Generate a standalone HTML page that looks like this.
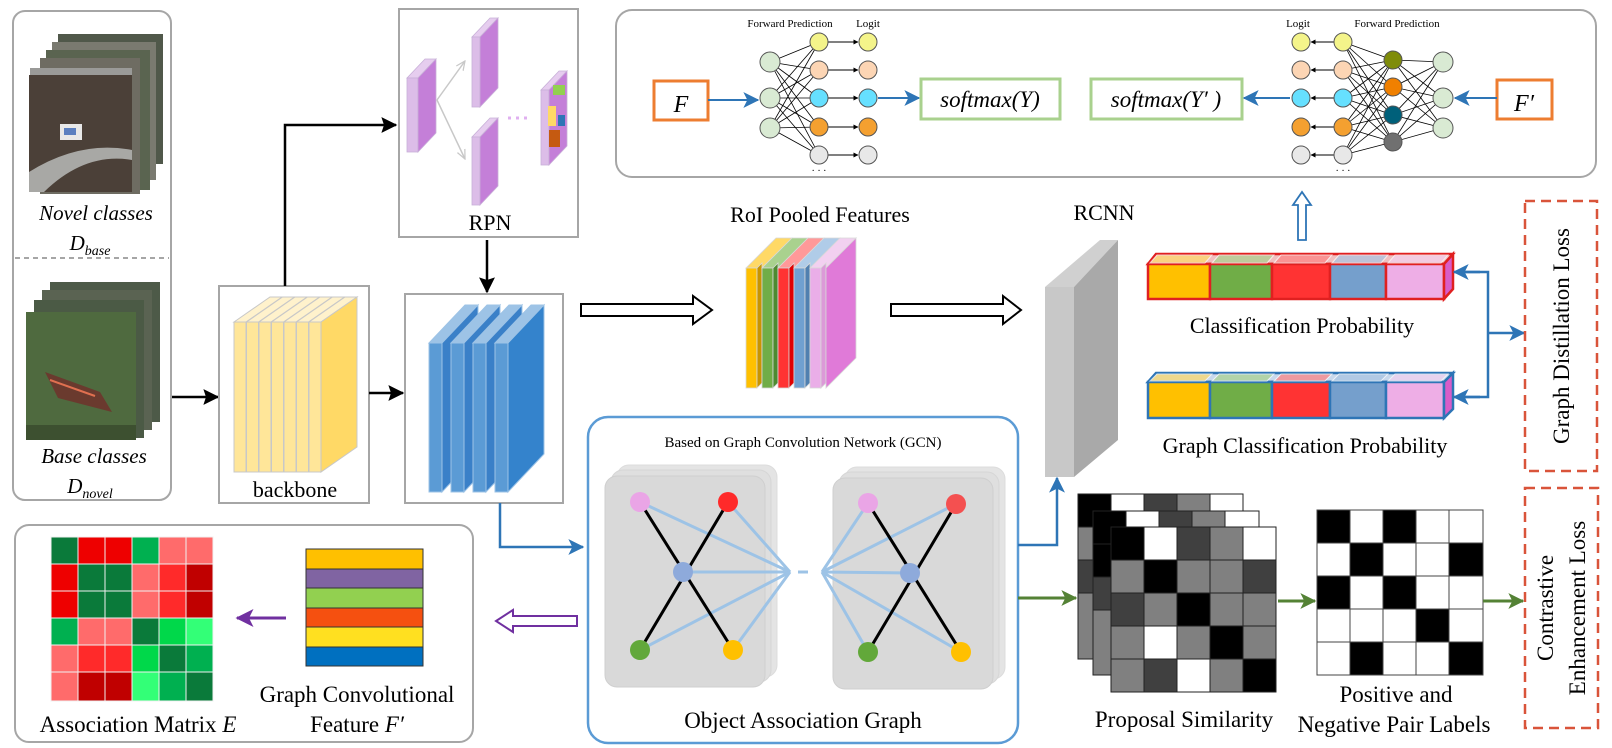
<!DOCTYPE html>
<html><head><meta charset="utf-8"><style>
html,body{margin:0;padding:0;background:#fff}
svg{display:block}
text{font-family:"Liberation Serif",serif;fill:#000}
</style></head><body>
<svg width="1612" height="748" viewBox="0 0 1612 748" xmlns="http://www.w3.org/2000/svg">
<defs>
<marker id="abk" viewBox="0 0 12 12" markerWidth="16" markerHeight="16" refX="11" refY="6" orient="auto" markerUnits="userSpaceOnUse"><path d="M0,0 L12,6 L0,12 L2,6 z" fill="#000"/></marker>
<marker id="abl" viewBox="0 0 12 12" markerWidth="16" markerHeight="16" refX="11" refY="6" orient="auto" markerUnits="userSpaceOnUse"><path d="M0,0 L12,6 L0,12 L3,6 z" fill="#2e75b6"/></marker>
<marker id="agr" viewBox="0 0 12 12" markerWidth="16" markerHeight="16" refX="11" refY="6" orient="auto" markerUnits="userSpaceOnUse"><path d="M0,0 L12,6 L0,12 L3,6 z" fill="#548235"/></marker>
<marker id="apu" viewBox="0 0 12 12" markerWidth="18" markerHeight="18" refX="11" refY="6" orient="auto" markerUnits="userSpaceOnUse"><path d="M0,0 L12,6 L0,12 L3,6 z" fill="#7030a0"/></marker>
<marker id="asm" viewBox="0 0 12 12" markerWidth="5" markerHeight="5" refX="11" refY="6" orient="auto" markerUnits="userSpaceOnUse"><path d="M0,0 L12,6 L0,12 z" fill="#000"/></marker>
<marker id="agy" viewBox="0 0 12 12" markerWidth="10" markerHeight="10" refX="11" refY="6" orient="auto" markerUnits="userSpaceOnUse"><path d="M0,1 L11,6 L0,11" fill="none" stroke="#c8c8c8" stroke-width="1.5"/></marker>
</defs>

<!-- ===== Left input box ===== -->
<rect x="13" y="11" width="158" height="489" rx="12" fill="#fff" stroke="#a6a6a6" stroke-width="2"/>
<line x1="15" y1="258" x2="169" y2="258" stroke="#a6a6a6" stroke-width="2" stroke-dasharray="5,4"/>
<rect x="58" y="34" width="105" height="130" fill="#50584a"/>
<rect x="52" y="42" width="104" height="138" fill="#7a7a70"/>
<rect x="46" y="50" width="104" height="140" fill="#5a6450"/>
<rect x="40" y="58" width="100" height="136" fill="#6e6c62"/>
<rect x="30" y="68" width="102" height="8" fill="#9a9a98"/>
<rect x="29" y="75" width="103" height="117" fill="#4b4038"/>
<path d="M29,172 Q80,140 132,150 L132,160 Q85,152 44,192 L29,192z" fill="#a8a8a5"/>
<rect x="60" y="124" width="22" height="16" fill="#e8e8e8"/>
<rect x="64" y="128" width="12" height="7" fill="#5b7fc0"/>
<rect x="50" y="282" width="110" height="140" fill="#4d5a48"/>
<rect x="42" y="290" width="110" height="140" fill="#5a6352"/>
<rect x="34" y="300" width="110" height="138" fill="#4b5a45"/>
<rect x="26" y="312" width="110" height="128" fill="#4f6a3f"/>
<path d="M45,372 L100,392 L112,412 L58,398z" fill="#6a3a2e"/>
<path d="M50,380 L95,396" stroke="#e07050" stroke-width="2"/>
<rect x="26" y="425" width="110" height="15" fill="#3d5030"/>
<text x="96" y="220" font-size="21" font-style="italic" text-anchor="middle">Novel classes</text>
<text x="90" y="250" font-size="21" font-style="italic" text-anchor="middle">D<tspan font-size="14" dy="5">base</tspan></text>
<text x="94" y="463" font-size="21" font-style="italic" text-anchor="middle">Base classes</text>
<text x="90" y="493" font-size="21" font-style="italic" text-anchor="middle">D<tspan font-size="14" dy="5">novel</tspan></text>

<line x1="172" y1="397" x2="218" y2="397" stroke="#000" stroke-width="2.5" marker-end="url(#abk)"/>

<!-- ===== backbone ===== -->
<rect x="219" y="286" width="150" height="217" fill="#fff" stroke="#a6a6a6" stroke-width="2"/>
<g stroke="#c8c8c8" stroke-width="1">
<polygon points="234,322 270,297 282,297 246,322" fill="#fff2cc"/><rect x="234" y="322" width="12" height="150" fill="#ffe699"/>
<polygon points="246.5,322 282.5,297 294.5,297 258.5,322" fill="#fff2cc"/><rect x="246.5" y="322" width="12" height="150" fill="#ffe699"/>
<polygon points="259,322 295,297 307,297 271,322" fill="#fff2cc"/><rect x="259" y="322" width="12" height="150" fill="#ffe699"/>
<polygon points="271.5,322 307.5,297 319.5,297 283.5,322" fill="#fff2cc"/><rect x="271.5" y="322" width="12" height="150" fill="#ffe699"/>
<polygon points="284,322 320,297 332,297 296,322" fill="#fff2cc"/><rect x="284" y="322" width="12" height="150" fill="#ffe699"/>
<polygon points="296.5,322 332.5,297 344.5,297 308.5,322" fill="#fff2cc"/><rect x="296.5" y="322" width="12" height="150" fill="#ffe699"/>
<polygon points="309,322 345,297 357,297 321,322" fill="#fff2cc"/><rect x="309" y="322" width="12" height="150" fill="#ffe699"/>
<polygon points="321,322 357,297 357,447 321,472" fill="#ffd966"/>
</g>
<text x="295" y="497" font-size="22" text-anchor="middle">backbone</text>

<polyline points="285,286 285,125 396,125" fill="none" stroke="#000" stroke-width="2.5" marker-end="url(#abk)"/>

<!-- ===== RPN ===== -->
<rect x="399" y="9" width="179" height="228" fill="#fff" stroke="#a6a6a6" stroke-width="2"/>
<g stroke="#c8b0d8" stroke-width="0.8">
<polygon points="407,78 425,59 436,59 418,78" fill="#e6cdef"/><rect x="407" y="78" width="11" height="74" fill="#dcbde8"/><polygon points="418,78 436,59 436,133 418,152" fill="#c47fd8"/>
<polygon points="472,37 490,18 498,18 480,37" fill="#e6cdef"/><rect x="472" y="37" width="8" height="70" fill="#dcbde8"/><polygon points="480,37 498,18 498,88 480,107" fill="#c47fd8"/>
<polygon points="472,137 490,118 498,118 480,137" fill="#e6cdef"/><rect x="472" y="137" width="8" height="68" fill="#dcbde8"/><polygon points="480,137 498,118 498,186 480,205" fill="#c47fd8"/>
<polygon points="541,90 559,71 567,71 549,90" fill="#e6cdef"/><rect x="541" y="90" width="8" height="75" fill="#dcbde8"/><polygon points="549,90 567,71 567,146 549,165" fill="#c47fd8"/>
</g>
<rect x="553" y="85" width="12" height="10" fill="#92d050"/>
<rect x="548" y="106" width="8" height="20" fill="#ffd966"/>
<rect x="558" y="115" width="7" height="11" fill="#2e75b6"/>
<rect x="549" y="130" width="11" height="17" fill="#c55a11"/>
<polyline points="437,100 465,61" fill="none" stroke="#c8c8c8" stroke-width="1.5" marker-end="url(#agy)"/>
<polyline points="437,100 465,159" fill="none" stroke="#c8c8c8" stroke-width="1.5" marker-end="url(#agy)"/>
<line x1="508" y1="118" x2="530" y2="118" stroke="#e0b0f0" stroke-width="3" stroke-dasharray="3,5"/>
<text x="490" y="230" font-size="22" text-anchor="middle">RPN</text>
<line x1="487" y1="240" x2="487" y2="292" stroke="#000" stroke-width="2.5" marker-end="url(#abk)"/>

<!-- ===== blue features ===== -->
<rect x="405" y="294" width="158" height="209" fill="#fff" stroke="#a6a6a6" stroke-width="2"/>
<line x1="369" y1="393" x2="403" y2="393" stroke="#000" stroke-width="2.5" marker-end="url(#abk)"/>
<g stroke="#9dc3e6" stroke-width="1">
<polygon points="429,343 465,305 478,305 442,343" fill="#9dc3e6"/><rect x="429" y="343" width="13" height="149" fill="#5b9bd5"/><polygon points="442,343 478,305 478,454 442,492" fill="#3a80c8"/>
<polygon points="451,343 487,305 500,305 464,343" fill="#9dc3e6"/><rect x="451" y="343" width="13" height="149" fill="#5b9bd5"/><polygon points="464,343 500,305 500,454 464,492" fill="#3a80c8"/>
<polygon points="473,343 509,305 522,305 486,343" fill="#9dc3e6"/><rect x="473" y="343" width="13" height="149" fill="#5b9bd5"/><polygon points="486,343 522,305 522,454 486,492" fill="#3a80c8"/>
<polygon points="495,343 531,305 544,305 508,343" fill="#9dc3e6"/><rect x="495" y="343" width="13" height="149" fill="#5b9bd5"/><polygon points="508,343 544,305 544,454 508,492" fill="#3483cc"/>
</g>

<!-- hollow arrows -->
<polygon points="581,304 693,304 693,296 712,310 693,324 693,316 581,316" fill="#fff" stroke="#000" stroke-width="2"/>
<polygon points="891,304 1003,304 1003,296 1021,310 1003,324 1003,316 891,316" fill="#fff" stroke="#000" stroke-width="2"/>

<!-- ===== RoI pooled ===== -->
<text x="820" y="222" font-size="22" text-anchor="middle">RoI Pooled Features</text>
<g stroke="#d8d8d8" stroke-width="0.8">
<polygon points="746,268 776,238 792,238 762,268" fill="#ffd966"/><rect x="746" y="268" width="11" height="120" fill="#ffc000"/><polygon points="757,268 762,263 762,383 757,388" fill="#c89400"/>
<polygon points="762,268 792,238 808,238 778,268" fill="#a9d18e"/><rect x="762" y="268" width="11" height="120" fill="#70ad47"/><polygon points="773,268 778,263 778,383 773,388" fill="#4e8a30"/>
<polygon points="778,268 808,238 824,238 794,268" fill="#ff9999"/><rect x="778" y="268" width="11" height="120" fill="#ff3333"/><polygon points="789,268 794,263 794,383 789,388" fill="#e00000"/>
<polygon points="794,268 824,238 840,238 810,268" fill="#b0cce8"/><rect x="794" y="268" width="11" height="120" fill="#70a0d0"/><polygon points="805,268 810,263 810,383 805,388" fill="#5080b0"/>
<polygon points="810,268 840,238 856,238 826,268" fill="#f2d0f0"/><rect x="810" y="268" width="11" height="120" fill="#eaaee8"/><polygon points="821,268 826,263 826,383 821,388" fill="#dc9ad8"/>
<polygon points="826,268 856,238 856,358 826,388" fill="#e07ad8"/>
</g>

<!-- ===== RCNN ===== -->
<text x="1104" y="220" font-size="22" text-anchor="middle">RCNN</text>
<polygon points="1045,287 1100,240 1118,240 1074,287" fill="#d0d0d0"/>
<rect x="1045" y="287" width="29" height="190" fill="#c8c8c8"/>
<polygon points="1074,287 1118,240 1118,440 1074,477" fill="#a9a9a9"/>

<!-- ===== top box ===== -->
<rect x="616" y="10" width="980" height="167" rx="16" fill="#fff" stroke="#a6a6a6" stroke-width="2"/>
<rect x="654" y="81" width="54" height="39" fill="#fff" stroke="#ed7d31" stroke-width="3"/>
<text x="681" y="112" font-size="24" font-style="italic" text-anchor="middle">F</text>
<line x1="708" y1="100" x2="758" y2="100" stroke="#2e75b6" stroke-width="2" marker-end="url(#abl)"/>
<g stroke="#000" stroke-width="0.8">
<line x1="770" y1="62" x2="819" y2="42"/><line x1="770" y1="62" x2="819" y2="70"/><line x1="770" y1="62" x2="819" y2="98"/><line x1="770" y1="62" x2="819" y2="127"/><line x1="770" y1="62" x2="819" y2="155"/>
<line x1="770" y1="98" x2="819" y2="42"/><line x1="770" y1="98" x2="819" y2="70"/><line x1="770" y1="98" x2="819" y2="98"/><line x1="770" y1="98" x2="819" y2="127"/><line x1="770" y1="98" x2="819" y2="155"/>
<line x1="770" y1="128" x2="819" y2="42"/><line x1="770" y1="128" x2="819" y2="70"/><line x1="770" y1="128" x2="819" y2="98"/><line x1="770" y1="128" x2="819" y2="127"/><line x1="770" y1="128" x2="819" y2="155"/>
<line x1="1443" y1="62" x2="1393" y2="60"/><line x1="1443" y1="62" x2="1393" y2="87"/><line x1="1443" y1="62" x2="1393" y2="115"/><line x1="1443" y1="62" x2="1393" y2="142"/>
<line x1="1443" y1="98" x2="1393" y2="60"/><line x1="1443" y1="98" x2="1393" y2="87"/><line x1="1443" y1="98" x2="1393" y2="115"/><line x1="1443" y1="98" x2="1393" y2="142"/>
<line x1="1443" y1="128" x2="1393" y2="60"/><line x1="1443" y1="128" x2="1393" y2="87"/><line x1="1443" y1="128" x2="1393" y2="115"/><line x1="1443" y1="128" x2="1393" y2="142"/>
<line x1="1393" y1="60" x2="1343" y2="42"/><line x1="1393" y1="60" x2="1343" y2="70"/><line x1="1393" y1="60" x2="1343" y2="98"/><line x1="1393" y1="60" x2="1343" y2="127"/><line x1="1393" y1="60" x2="1343" y2="155"/>
<line x1="1393" y1="87" x2="1343" y2="42"/><line x1="1393" y1="87" x2="1343" y2="70"/><line x1="1393" y1="87" x2="1343" y2="98"/><line x1="1393" y1="87" x2="1343" y2="127"/><line x1="1393" y1="87" x2="1343" y2="155"/>
<line x1="1393" y1="115" x2="1343" y2="42"/><line x1="1393" y1="115" x2="1343" y2="70"/><line x1="1393" y1="115" x2="1343" y2="98"/><line x1="1393" y1="115" x2="1343" y2="127"/><line x1="1393" y1="115" x2="1343" y2="155"/>
<line x1="1393" y1="142" x2="1343" y2="42"/><line x1="1393" y1="142" x2="1343" y2="70"/><line x1="1393" y1="142" x2="1343" y2="98"/><line x1="1393" y1="142" x2="1343" y2="127"/><line x1="1393" y1="142" x2="1343" y2="155"/>
</g>
<g stroke="#000" stroke-width="1" marker-end="url(#asm)">
<line x1="828" y1="42" x2="858" y2="42"/><line x1="828" y1="70" x2="858" y2="70"/><line x1="828" y1="98" x2="858" y2="98"/><line x1="828" y1="127" x2="858" y2="127"/><line x1="828" y1="155" x2="858" y2="155"/>
<line x1="1334" y1="42" x2="1311" y2="42"/><line x1="1334" y1="70" x2="1311" y2="70"/><line x1="1334" y1="98" x2="1311" y2="98"/><line x1="1334" y1="127" x2="1311" y2="127"/><line x1="1334" y1="155" x2="1311" y2="155"/>
</g>
<g stroke="#555" stroke-width="1">
<circle cx="770" cy="62" r="10" fill="#d9ead3"/><circle cx="770" cy="98" r="10" fill="#d9ead3"/><circle cx="770" cy="128" r="10" fill="#d9ead3"/>
<circle cx="819" cy="42" r="9" fill="#f4f48a"/><circle cx="819" cy="70" r="9" fill="#fcd5b4"/><circle cx="819" cy="98" r="9" fill="#66e0ff"/><circle cx="819" cy="127" r="9" fill="#f4a030"/><circle cx="819" cy="155" r="9" fill="#e8e8e8"/>
<circle cx="868" cy="42" r="9" fill="#f4f48a"/><circle cx="868" cy="70" r="9" fill="#fcd5b4"/><circle cx="868" cy="98" r="9" fill="#66e0ff"/><circle cx="868" cy="127" r="9" fill="#f4a030"/><circle cx="868" cy="155" r="9" fill="#e8e8e8"/>
<circle cx="1301" cy="42" r="9" fill="#f4f48a"/><circle cx="1301" cy="70" r="9" fill="#fcd5b4"/><circle cx="1301" cy="98" r="9" fill="#66e0ff"/><circle cx="1301" cy="127" r="9" fill="#f4a030"/><circle cx="1301" cy="155" r="9" fill="#e8e8e8"/>
<circle cx="1343" cy="42" r="9" fill="#f4f48a"/><circle cx="1343" cy="70" r="9" fill="#fcd5b4"/><circle cx="1343" cy="98" r="9" fill="#66e0ff"/><circle cx="1343" cy="127" r="9" fill="#f4a030"/><circle cx="1343" cy="155" r="9" fill="#e8e8e8"/>
<circle cx="1393" cy="60" r="9" fill="#7f8c0a"/><circle cx="1393" cy="87" r="9" fill="#f08000"/><circle cx="1393" cy="115" r="9" fill="#00607a"/><circle cx="1393" cy="142" r="9" fill="#707070"/>
<circle cx="1443" cy="62" r="10" fill="#d9ead3"/><circle cx="1443" cy="98" r="10" fill="#d9ead3"/><circle cx="1443" cy="128" r="10" fill="#d9ead3"/>
</g>
<text x="790" y="27" font-size="11" text-anchor="middle">Forward Prediction</text>
<text x="868" y="27" font-size="11" text-anchor="middle">Logit</text>
<text x="1298" y="27" font-size="11" text-anchor="middle">Logit</text>
<text x="1397" y="27" font-size="11" text-anchor="middle">Forward Prediction</text>
<text x="819" y="174" font-size="10" text-anchor="middle">· · ·</text>
<text x="1343" y="174" font-size="10" text-anchor="middle">· · ·</text>
<line x1="878" y1="98" x2="919" y2="98" stroke="#2e75b6" stroke-width="2" marker-end="url(#abl)"/>
<rect x="921" y="79" width="139" height="40" fill="#fff" stroke="#a9d18e" stroke-width="3"/>
<text x="990" y="107" font-size="23" font-style="italic" text-anchor="middle">softmax(Y)</text>
<rect x="1091" y="79" width="151" height="40" fill="#fff" stroke="#a9d18e" stroke-width="3"/>
<text x="1166" y="107" font-size="23" font-style="italic" text-anchor="middle">softmax(Y′ )</text>
<line x1="1290" y1="98" x2="1244" y2="98" stroke="#2e75b6" stroke-width="2" marker-end="url(#abl)"/>
<rect x="1497" y="80" width="55" height="39" fill="#fff" stroke="#ed7d31" stroke-width="3"/>
<text x="1524" y="111" font-size="24" font-style="italic" text-anchor="middle">F′</text>
<line x1="1497" y1="98" x2="1455" y2="98" stroke="#2e75b6" stroke-width="2" marker-end="url(#abl)"/>

<polygon points="1298,240 1298,205 1293,205 1302,192 1311,205 1306,205 1306,240" fill="#fff" stroke="#2e75b6" stroke-width="1.8"/>

<!-- ===== prob bars ===== -->
<g stroke="#e02020" stroke-width="2.5">
<polygon points="1148,264 1156,254 1453,254 1444,264" fill="#f0c0c0"/>
<rect x="1148" y="264" width="62" height="35" fill="#ffc000"/>
<rect x="1210" y="264" width="62" height="35" fill="#70ad47"/>
<rect x="1272" y="264" width="58" height="35" fill="#ff3333"/>
<rect x="1330" y="264" width="56" height="35" fill="#759fcc"/>
<rect x="1386" y="264" width="58" height="35" fill="#eeaee6"/>
<polygon points="1444,264 1453,254 1453,289 1444,299" fill="#d85cc8"/>
</g>
<g stroke="#fff" stroke-width="1" opacity="0.7">
<polygon points="1150,263 1157,255 1212,255 1205,263" fill="#ffd966"/>
<polygon points="1212,263 1219,255 1274,255 1267,263" fill="#a9d18e"/>
<polygon points="1274,263 1281,255 1332,255 1325,263" fill="#ff8080"/>
<polygon points="1332,263 1339,255 1388,255 1381,263" fill="#a8c4e2"/>
<polygon points="1388,263 1395,255 1448,255 1441,263" fill="#f4d0f0"/>
</g>
<text x="1302" y="333" font-size="22" text-anchor="middle">Classification Probability</text>
<g stroke="#2e75b6" stroke-width="2.5">
<polygon points="1148,382 1156,373 1453,373 1444,382" fill="#c8d8ec"/>
<rect x="1148" y="382" width="62" height="36" fill="#ffc000"/>
<rect x="1210" y="382" width="62" height="36" fill="#70ad47"/>
<rect x="1272" y="382" width="58" height="36" fill="#ff3333"/>
<rect x="1330" y="382" width="56" height="36" fill="#759fcc"/>
<rect x="1386" y="382" width="58" height="36" fill="#eeaee6"/>
<polygon points="1444,382 1453,373 1453,409 1444,418" fill="#d85cc8"/>
</g>
<g stroke="#fff" stroke-width="1" opacity="0.7">
<polygon points="1150,381 1157,374 1212,374 1205,381" fill="#ffd966"/>
<polygon points="1212,381 1219,374 1274,374 1267,381" fill="#a9d18e"/>
<polygon points="1274,381 1281,374 1332,374 1325,381" fill="#ff8080"/>
<polygon points="1332,381 1339,374 1388,374 1381,381" fill="#a8c4e2"/>
<polygon points="1388,381 1395,374 1448,374 1441,381" fill="#f4d0f0"/>
</g>
<text x="1305" y="453" font-size="22" text-anchor="middle">Graph Classification Probability</text>
<polyline points="1460,272 1488,272 1488,397 1460,397" fill="none" stroke="#2e75b6" stroke-width="2.5"/>
<line x1="1480" y1="272" x2="1454" y2="272" stroke="#2e75b6" stroke-width="2.5" marker-end="url(#abl)"/>
<line x1="1480" y1="397" x2="1454" y2="397" stroke="#2e75b6" stroke-width="2.5" marker-end="url(#abl)"/>
<line x1="1488" y1="333" x2="1524" y2="333" stroke="#2e75b6" stroke-width="2.5" marker-end="url(#abl)"/>

<!-- loss boxes -->
<rect x="1525" y="201" width="72" height="270" fill="#fff" stroke="#d9543a" stroke-width="2.5" stroke-dasharray="10,6"/>
<text transform="translate(1569,336) rotate(-90)" font-size="23" text-anchor="middle">Graph Distillation Loss</text>
<rect x="1525" y="488" width="73" height="240" fill="#fff" stroke="#d9543a" stroke-width="2.5" stroke-dasharray="10,6"/>
<text transform="translate(1553,608) rotate(-90)" font-size="23" text-anchor="middle">Contrastive</text>
<text transform="translate(1585,608) rotate(-90)" font-size="23" text-anchor="middle">Enhancement Loss</text>

<!-- ===== GCN box ===== -->
<polyline points="500,503 500,547 583,547" fill="none" stroke="#2e75b6" stroke-width="2.5" marker-end="url(#abl)"/>
<rect x="588" y="417" width="430" height="326" rx="20" fill="#fff" stroke="#5b9bd5" stroke-width="2.5"/>
<text x="803" y="447" font-size="15" text-anchor="middle">Based on Graph Convolution Network (GCN)</text>
<rect x="617" y="465" width="160" height="212" rx="12" fill="#e4e4e4" stroke="#dcdcdc"/>
<rect x="611" y="470" width="160" height="212" rx="12" fill="#dfdfdf" stroke="#d6d6d6"/>
<rect x="605" y="476" width="160" height="211" rx="12" fill="#d9d9d9" stroke="#cfcfcf"/>
<rect x="845" y="467" width="160" height="212" rx="12" fill="#e4e4e4" stroke="#dcdcdc"/>
<rect x="839" y="472" width="160" height="212" rx="12" fill="#dfdfdf" stroke="#d6d6d6"/>
<rect x="833" y="478" width="160" height="211" rx="12" fill="#d9d9d9" stroke="#cfcfcf"/>
<g stroke="#9dc3e6" stroke-width="3" fill="none">
<line x1="640" y1="502" x2="790" y2="572"/><line x1="728" y1="502" x2="790" y2="572"/><line x1="683" y1="572" x2="790" y2="572"/><line x1="640" y1="650" x2="790" y2="572"/><line x1="733" y1="650" x2="790" y2="572"/>
<line x1="798" y1="572" x2="808" y2="572"/>
<line x1="822" y1="572" x2="868" y2="503"/><line x1="822" y1="572" x2="956" y2="504"/><line x1="822" y1="572" x2="910" y2="573"/><line x1="822" y1="572" x2="868" y2="652"/><line x1="822" y1="572" x2="961" y2="652"/>
</g>
<g stroke="#000" stroke-width="3">
<line x1="640" y1="502" x2="733" y2="650"/><line x1="728" y1="502" x2="640" y2="650"/>
<line x1="868" y1="503" x2="961" y2="652"/><line x1="956" y1="504" x2="868" y2="652"/>
</g>
<circle cx="640" cy="502" r="10" fill="#eaa5e6"/><circle cx="728" cy="502" r="10" fill="#ff2a2a"/><circle cx="683" cy="572" r="10" fill="#8eaadb"/><circle cx="640" cy="650" r="10" fill="#62a83a"/><circle cx="733" cy="650" r="10" fill="#ffc000"/>
<circle cx="868" cy="503" r="10" fill="#eaa5e6"/><circle cx="956" cy="504" r="10" fill="#f45050"/><circle cx="910" cy="573" r="10" fill="#8eaadb"/><circle cx="868" cy="652" r="10" fill="#62a83a"/><circle cx="961" cy="652" r="10" fill="#ffc000"/>
<text x="803" y="728" font-size="23" text-anchor="middle">Object Association Graph</text>

<polygon points="577,616 513,616 513,610 496,621 513,632 513,626 577,626" fill="#fff" stroke="#7030a0" stroke-width="2"/>

<!-- ===== bottom-left box ===== -->
<rect x="15" y="525" width="458" height="217" rx="14" fill="#fff" stroke="#a6a6a6" stroke-width="2"/>
<g stroke="#f0f0f0" stroke-width="1">
<rect x="51" y="537" width="27" height="27" fill="#0a7a3a"/><rect x="78" y="537" width="27" height="27" fill="#ee0000"/><rect x="105" y="537" width="27" height="27" fill="#ee0000"/><rect x="132" y="537" width="27" height="27" fill="#00b050"/><rect x="159" y="537" width="27" height="27" fill="#ff6b6b"/><rect x="186" y="537" width="27" height="27" fill="#ff6b6b"/>
<rect x="51" y="564" width="27" height="27" fill="#ee0000"/><rect x="78" y="564" width="27" height="27" fill="#0a7a3a"/><rect x="105" y="564" width="27" height="27" fill="#0a7a3a"/><rect x="132" y="564" width="27" height="27" fill="#ff6b6b"/><rect x="159" y="564" width="27" height="27" fill="#ff2a2a"/><rect x="186" y="564" width="27" height="27" fill="#c00000"/>
<rect x="51" y="591" width="27" height="27" fill="#ee0000"/><rect x="78" y="591" width="27" height="27" fill="#0a7a3a"/><rect x="105" y="591" width="27" height="27" fill="#0a7a3a"/><rect x="132" y="591" width="27" height="27" fill="#ff6b6b"/><rect x="159" y="591" width="27" height="27" fill="#ff2a2a"/><rect x="186" y="591" width="27" height="27" fill="#c00000"/>
<rect x="51" y="618" width="27" height="27" fill="#00b050"/><rect x="78" y="618" width="27" height="27" fill="#ff6b6b"/><rect x="105" y="618" width="27" height="27" fill="#ff6b6b"/><rect x="132" y="618" width="27" height="27" fill="#0a7a3a"/><rect x="159" y="618" width="27" height="27" fill="#00d84a"/><rect x="186" y="618" width="27" height="27" fill="#33ff77"/>
<rect x="51" y="645" width="27" height="27" fill="#ff6b6b"/><rect x="78" y="645" width="27" height="27" fill="#ff2a2a"/><rect x="105" y="645" width="27" height="27" fill="#ff2a2a"/><rect x="132" y="645" width="27" height="27" fill="#00d84a"/><rect x="159" y="645" width="27" height="27" fill="#0a7a3a"/><rect x="186" y="645" width="27" height="27" fill="#00b050"/>
<rect x="51" y="672" width="27" height="29" fill="#ff6b6b"/><rect x="78" y="672" width="27" height="29" fill="#c00000"/><rect x="105" y="672" width="27" height="29" fill="#c00000"/><rect x="132" y="672" width="27" height="29" fill="#33ff77"/><rect x="159" y="672" width="27" height="29" fill="#00b050"/><rect x="186" y="672" width="27" height="29" fill="#0a7a3a"/>
</g>
<text x="138" y="732" font-size="23" text-anchor="middle">Association Matrix <tspan font-style="italic">E</tspan></text>
<line x1="286" y1="618" x2="237" y2="618" stroke="#7030a0" stroke-width="3" marker-end="url(#apu)"/>
<g stroke="#333" stroke-width="1">
<rect x="306" y="549" width="117" height="20" fill="#ffc000"/><rect x="306" y="569" width="117" height="19" fill="#8064a2"/><rect x="306" y="588" width="117" height="20" fill="#92d050"/><rect x="306" y="608" width="117" height="19" fill="#f55010"/><rect x="306" y="627" width="117" height="20" fill="#ffe020"/><rect x="306" y="647" width="117" height="19" fill="#0070c0"/>
</g>
<text x="357" y="702" font-size="23" text-anchor="middle">Graph Convolutional</text>
<text x="357" y="732" font-size="23" text-anchor="middle">Feature <tspan font-style="italic">F′</tspan></text>

<!-- ===== RCNN feed & similarity ===== -->
<polyline points="1018,545 1057,545 1057,478" fill="none" stroke="#2e75b6" stroke-width="2.5" marker-end="url(#abl)"/>
<line x1="1018" y1="598" x2="1076" y2="598" stroke="#548235" stroke-width="3" marker-end="url(#agr)"/>
<g stroke="#222" stroke-width="1">
<rect x="1078" y="494" width="165" height="165" fill="#808080"/>
<rect x="1078" y="494" width="33" height="33" fill="#000"/><rect x="1111" y="494" width="33" height="33" fill="#fff"/><rect x="1144" y="494" width="33" height="33" fill="#404040"/><rect x="1177" y="494" width="33" height="33" fill="#808080"/><rect x="1210" y="494" width="33" height="33" fill="#fff"/>
<rect x="1078" y="527" width="33" height="33" fill="#808080"/><rect x="1078" y="560" width="33" height="33" fill="#404040"/>
<rect x="1093" y="511" width="166" height="164" fill="#808080"/>
<rect x="1093" y="511" width="33" height="33" fill="#000"/><rect x="1126" y="511" width="33" height="33" fill="#fff"/><rect x="1159" y="511" width="33" height="33" fill="#404040"/><rect x="1192" y="511" width="33" height="33" fill="#808080"/><rect x="1225" y="511" width="34" height="33" fill="#fff"/>
<rect x="1093" y="544" width="33" height="33" fill="#000"/><rect x="1093" y="577" width="33" height="33" fill="#404040"/>
</g>
<g stroke="#222" stroke-width="1">
<rect x="1111" y="527" width="33" height="33" fill="#000"/><rect x="1144" y="527" width="33" height="33" fill="#fff"/><rect x="1177" y="527" width="33" height="33" fill="#404040"/><rect x="1210" y="527" width="33" height="33" fill="#808080"/><rect x="1243" y="527" width="33" height="33" fill="#fff"/>
<rect x="1111" y="560" width="33" height="33" fill="#808080"/><rect x="1144" y="560" width="33" height="33" fill="#000"/><rect x="1177" y="560" width="33" height="33" fill="#808080"/><rect x="1210" y="560" width="33" height="33" fill="#808080"/><rect x="1243" y="560" width="33" height="33" fill="#404040"/>
<rect x="1111" y="593" width="33" height="33" fill="#404040"/><rect x="1144" y="593" width="33" height="33" fill="#808080"/><rect x="1177" y="593" width="33" height="33" fill="#000"/><rect x="1210" y="593" width="33" height="33" fill="#808080"/><rect x="1243" y="593" width="33" height="33" fill="#808080"/>
<rect x="1111" y="626" width="33" height="33" fill="#808080"/><rect x="1144" y="626" width="33" height="33" fill="#fff"/><rect x="1177" y="626" width="33" height="33" fill="#808080"/><rect x="1210" y="626" width="33" height="33" fill="#000"/><rect x="1243" y="626" width="33" height="33" fill="#808080"/>
<rect x="1111" y="659" width="33" height="33" fill="#808080"/><rect x="1144" y="659" width="33" height="33" fill="#404040"/><rect x="1177" y="659" width="33" height="33" fill="#fff"/><rect x="1210" y="659" width="33" height="33" fill="#808080"/><rect x="1243" y="659" width="33" height="33" fill="#000"/>
</g>
<text x="1184" y="727" font-size="23" text-anchor="middle">Proposal Similarity</text>
<line x1="1278" y1="601" x2="1315" y2="601" stroke="#548235" stroke-width="3" marker-end="url(#agr)"/>
<g stroke="#444" stroke-width="1">
<rect x="1317" y="510" width="33" height="33" fill="#000"/><rect x="1350" y="510" width="33" height="33" fill="#fff"/><rect x="1383" y="510" width="33" height="33" fill="#000"/><rect x="1416" y="510" width="33" height="33" fill="#fff"/><rect x="1449" y="510" width="34" height="33" fill="#fff"/>
<rect x="1317" y="543" width="33" height="33" fill="#fff"/><rect x="1350" y="543" width="33" height="33" fill="#000"/><rect x="1383" y="543" width="33" height="33" fill="#fff"/><rect x="1416" y="543" width="33" height="33" fill="#fff"/><rect x="1449" y="543" width="34" height="33" fill="#000"/>
<rect x="1317" y="576" width="33" height="33" fill="#000"/><rect x="1350" y="576" width="33" height="33" fill="#fff"/><rect x="1383" y="576" width="33" height="33" fill="#000"/><rect x="1416" y="576" width="33" height="33" fill="#fff"/><rect x="1449" y="576" width="34" height="33" fill="#fff"/>
<rect x="1317" y="609" width="33" height="33" fill="#fff"/><rect x="1350" y="609" width="33" height="33" fill="#fff"/><rect x="1383" y="609" width="33" height="33" fill="#fff"/><rect x="1416" y="609" width="33" height="33" fill="#000"/><rect x="1449" y="609" width="34" height="33" fill="#fff"/>
<rect x="1317" y="642" width="33" height="33" fill="#fff"/><rect x="1350" y="642" width="33" height="33" fill="#000"/><rect x="1383" y="642" width="33" height="33" fill="#fff"/><rect x="1416" y="642" width="33" height="33" fill="#fff"/><rect x="1449" y="642" width="34" height="33" fill="#000"/>
</g>
<text x="1396" y="702" font-size="23" text-anchor="middle">Positive and</text>
<text x="1394" y="732" font-size="23" text-anchor="middle">Negative Pair Labels</text>
<line x1="1483" y1="601" x2="1523" y2="601" stroke="#548235" stroke-width="3" marker-end="url(#agr)"/>
</svg>
</body></html>
